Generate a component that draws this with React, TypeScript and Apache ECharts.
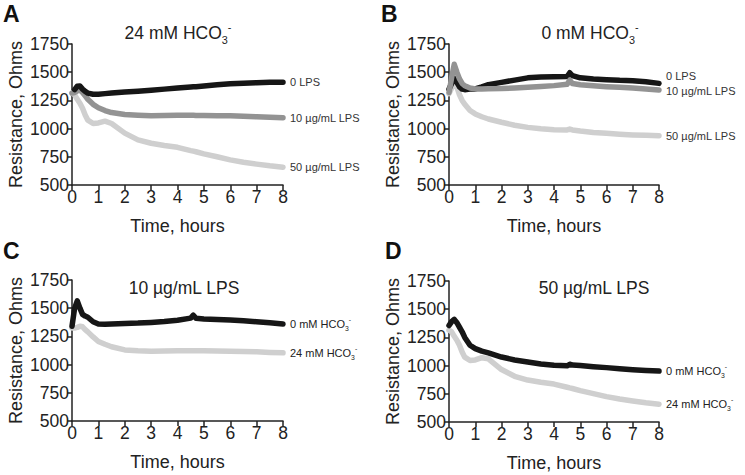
import React, { useEffect, useRef } from "react";
import * as echarts from "echarts";

// Time points (hours)
const times = [0, 0.1, 0.2, 0.3, 0.4, 0.5, 0.6, 0.8, 1, 1.25, 1.5, 2, 2.5, 3, 3.5, 4, 4.5, 4.6, 4.7, 5, 5.5, 6, 6.5, 7, 7.5, 8];

// Panel A: 24 mM HCO3-
const a0LPS = [null, 1345, 1375, 1378, 1350, 1330, 1315, 1305, 1305, 1310, 1315, 1325, 1332, 1340, 1350, 1360, 1368, 1370, 1372, 1378, 1388, 1398, 1403, 1407, 1410, 1412];
const a10LPS = [1315, 1320, 1335, 1340, 1320, 1290, 1260, 1215, 1185, 1160, 1142, 1125, 1118, 1113, 1116, 1119, 1118, 1118, 1117, 1116, 1115, 1113, 1110, 1105, 1100, 1096];
const a50LPS = [1315, 1300, 1260, 1225, 1180, 1120, 1075, 1045, 1050, 1066, 1045, 960, 900, 870, 850, 834, 805, 800, 795, 776, 750, 723, 702, 685, 670, 658];

// Panel B: 0 mM HCO3-
const b0LPS = [1350, 1400, 1445, 1410, 1370, 1350, 1345, 1350, 1352, 1370, 1390, 1410, 1430, 1450, 1458, 1460, 1462, 1495, 1470, 1450, 1440, 1434, 1428, 1425, 1415, 1401];
const b10LPS = [1320, 1450, 1570, 1500, 1440, 1400, 1380, 1360, 1352, 1352, 1353, 1355, 1360, 1366, 1373, 1381, 1393, 1430, 1400, 1388, 1380, 1372, 1366, 1360, 1352, 1342];
const b50LPS = [1310, 1360, 1420, 1370, 1300, 1250, 1215, 1160, 1130, 1105, 1085, 1056, 1030, 1011, 998, 990, 988, 996, 988, 978, 966, 958, 950, 944, 940, 937];

// Panel C: 10 ug/mL LPS
const c0mM = [1340, 1500, 1565, 1500, 1445, 1430, 1420, 1380, 1360, 1358, 1360, 1365, 1368, 1374, 1382, 1393, 1412, 1438, 1410, 1405, 1400, 1395, 1388, 1380, 1370, 1359];
const c24mM = [1325, 1325, 1330, 1340, 1335, 1310, 1290, 1245, 1205, 1180, 1158, 1130, 1122, 1119, 1120, 1122, 1122, 1122, 1122, 1122, 1120, 1119, 1116, 1113, 1108, 1104];

// Panel D: 50 ug/mL LPS
const d0mM = [1355, 1390, 1410, 1380, 1340, 1300, 1250, 1180, 1150, 1128, 1112, 1076, 1050, 1032, 1015, 1003, 998, 1012, 1005, 1000, 990, 982, 972, 964, 957, 952];
const d24mM = [1315, 1300, 1260, 1225, 1180, 1120, 1075, 1045, 1050, 1070, 1060, 965, 905, 872, 852, 836, 808, 802, 797, 778, 752, 725, 704, 687, 671, 658];

const panelLetters = ["A", "B", "C", "D"];
const yTicks = { min: 500, max: 1750, interval: 250 };
const xTicks = { min: 0, max: 8, interval: 1 };

const FONT = "'Liberation Sans', Arial, Helvetica, sans-serif";
const BLACK = "#161616";
const GRAY = "#939393";
const LIGHT = "#cfcfcf";

const hcoRich = (size: number) => ({
  m: { fontSize: size, fontFamily: FONT, color: "#222", verticalAlign: "middle", lineHeight: size * 1.4 },
  sub: { fontSize: size * 0.62, fontFamily: FONT, color: "#222", verticalAlign: "bottom" },
  sup: { fontSize: size * 0.62, fontFamily: FONT, color: "#222", verticalAlign: "top" },
});

export default function App() {
  const ref = useRef<HTMLDivElement>(null);
  useEffect(() => {
    if (!ref.current) return;
    const chart = echarts.init(ref.current, null, { renderer: "svg" });

    const grids = [
      { left: 72, top: 44, width: 211, height: 141 },
      { left: 449, top: 44, width: 210, height: 141 },
      { left: 72, top: 280, width: 211, height: 141 },
      { left: 449, top: 281, width: 210, height: 141 },
    ];

    const axisCommon = {
      axisLine: { show: true, lineStyle: { color: "#222", width: 1.5 } },
      axisTick: { show: true, length: 5, lineStyle: { color: "#222", width: 1.5 } },
      splitLine: { show: false },
      axisLabel: { color: "#222", fontSize: 17.5, fontFamily: FONT, margin: 3, formatter: (v: number) => String(v) },
      nameTextStyle: { color: "#222", fontSize: 18, fontFamily: FONT },
    };

    const xAxes = grids.map((_, i) => ({
      type: "value",
      gridIndex: i,
      ...xTicks,
      ...axisCommon,
      name: "Time, hours",
      nameLocation: "middle",
      nameGap: 32,
    }));
    const yAxes = grids.map((_, i) => ({
      type: "value",
      gridIndex: i,
      ...yTicks,
      ...axisCommon,
      name: "Resistance, Ohms",
      nameLocation: "middle",
      nameGap: 47,
    }));

    const toData = (vals: (number | null)[]) => times.map((t, k) => [t, vals[k] == null ? "-" : vals[k]]);

    const mk = (idx: number, vals: (number | null)[], color: string, label: string, offset: number[] = [0, 0], z = 2) => ({
      type: "line",
      xAxisIndex: idx,
      yAxisIndex: idx,
      data: toData(vals),
      showSymbol: false,
      symbol: "none",
      z,
      lineStyle: { color, width: 5.5, cap: "round", join: "round" },
      endLabel: {
        show: true,
        formatter: label,
        distance: 7,
        offset,
        color: "#333",
        fontSize: 11,
        fontFamily: FONT,
        rich: hcoRich(11),
      },
    });

    const hco = (n: string) => `{m|${n} mM HCO}{sub|3}{sup|-}`;

    const series = [
      mk(0, a50LPS, LIGHT, "50 µg/mL LPS", [0, 0], 2),
      mk(0, a10LPS, GRAY, "10 µg/mL LPS", [0, 0], 3),
      mk(0, a0LPS, BLACK, "0 LPS", [0, 0], 4),
      mk(1, b50LPS, LIGHT, "50 µg/mL LPS", [0, 0], 2),
      mk(1, b10LPS, GRAY, "10 µg/mL LPS", [0, 1], 4),
      mk(1, b0LPS, BLACK, "0 LPS", [0, -7], 3),
      mk(2, c24mM, LIGHT, hco("24"), [0, 0], 2),
      mk(2, c0mM, BLACK, hco("0"), [0, 0], 4),
      mk(3, d24mM, LIGHT, hco("24"), [0, 0], 2),
      mk(3, d0mM, BLACK, hco("0"), [0, 0], 4),
    ];

    const titleDefs = [
      { text: hco("24"), x: 178, y: 21 },
      { text: hco("0"), x: 590, y: 21 },
      { text: "{m|10 µg/mL LPS}", x: 184, y: 276 },
      { text: "{m|50 µg/mL LPS}", x: 594, y: 276 },
    ];
    const letterPos = [
      [3, 2],
      [381, 2],
      [3, 239],
      [385, 239],
    ];

    const graphic: any[] = [];
    titleDefs.forEach((t) => {
      graphic.push({
        type: "text",
        x: t.x,
        y: t.y,
        style: {
          text: t.text,
          align: "center",
          verticalAlign: "top",
          rich: hcoRich(17.5),
          fill: "#222",
        },
      });
    });
    panelLetters.forEach((l, i) => {
      graphic.push({
        type: "text",
        x: letterPos[i][0],
        y: letterPos[i][1],
        style: {
          text: l,
          font: `bold 23px ${FONT}`,
          fill: "#111",
          verticalAlign: "top",
        },
      });
    });

    chart.setOption({
      animation: false,
      backgroundColor: "#ffffff",
      grid: grids,
      xAxis: xAxes,
      yAxis: yAxes,
      series,
      graphic,
    });
    return () => chart.dispose();
  }, []);

  return (
    <div
      ref={ref}
      style={{ position: "fixed", left: 0, top: 0, width: 745, height: 475, background: "#fff" }}
    />
  );
}
